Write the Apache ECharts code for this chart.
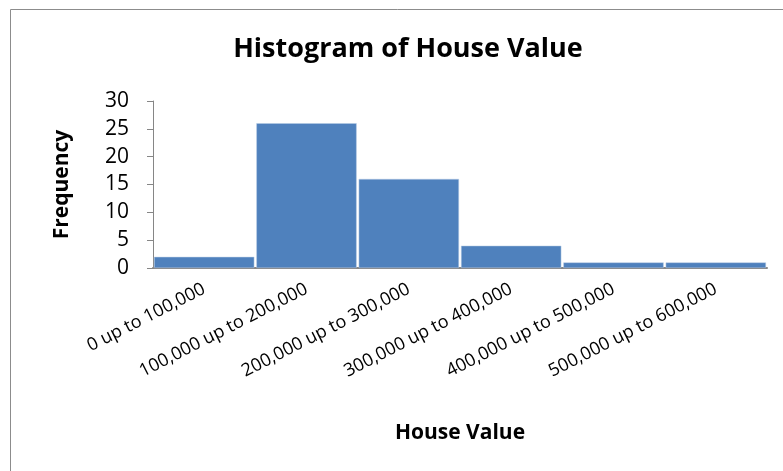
<!DOCTYPE html>
<html>
<head>
<meta charset="utf-8">
<script src="https://cdn.jsdelivr.net/npm/echarts@6/dist/echarts.min.js"></script>
<style>
  html, body { margin: 0; padding: 0; background: #fff; overflow: hidden; }
  #chart { width: 783px; height: 471px; }
</style>
</head>
<body>
<div id="chart"></div>
<script>
const categories = [
  '0 up to 100,000',
  '100,000 up to 200,000',
  '200,000 up to 300,000',
  '300,000 up to 400,000',
  '400,000 up to 500,000',
  '500,000 up to 600,000'
]
const frequency = [2, 26, 16, 4, 1, 1]
const yTicks = [0, 5, 10, 15, 20, 25, 30]

const font = '"Open Sans", "Noto Sans", sans-serif'
const myChart = echarts.init(document.getElementById('chart'))
myChart.setOption({
  animation: false,
  title: {
    text: 'Histogram of House Value',
    left: 403,
    top: 31,
    textAlign: 'center',
    textStyle: { fontFamily: font, fontSize: 27, fontWeight: 'bold', color: '#000' }
  },
  graphic: [
    {
      type: 'rect',
      shape: { x: 10.5, y: 9.5, width: 820, height: 520 },
      style: { fill: 'none', stroke: '#8c8c8c', lineWidth: 1 }
    }
  ],
  grid: { left: 153, right: 16, top: 101, bottom: 203 },
  xAxis: {
    type: 'category',
    data: categories,
    name: 'House Value',
    nameLocation: 'middle',
    nameGap: 155,
    nameTextStyle: { fontFamily: font, fontSize: 21, fontWeight: 'bold', color: '#000' },
    axisLine: { lineStyle: { color: '#868686', width: 2 } },
    axisTick: { show: false },
    axisLabel: {
      interval: 0,
      rotate: 27,
      margin: 20,
      fontFamily: font,
      fontSize: 18,
      color: '#000'
    }
  },
  yAxis: {
    type: 'value',
    min: yTicks[0],
    max: yTicks[yTicks.length - 1],
    interval: 5,
    name: 'Frequency',
    nameLocation: 'middle',
    nameGap: 80,
    nameTextStyle: { fontFamily: font, fontSize: 21, fontWeight: 'bold', color: '#000' },
    splitLine: { show: false },
    axisLine: { show: true, lineStyle: { color: '#868686', width: 1 } },
    axisTick: { show: true, length: 6, lineStyle: { color: '#868686' } },
    axisLabel: { margin: 24, fontFamily: font, fontSize: 21, color: '#000' }
  },
  series: [
    {
      type: 'bar',
      data: frequency,
      barCategoryGap: '2%',
      itemStyle: { color: '#4f81bd', borderColor: '#b9cde5', borderWidth: 0.5 }
    }
  ]
})
</script>
</body>
</html>
